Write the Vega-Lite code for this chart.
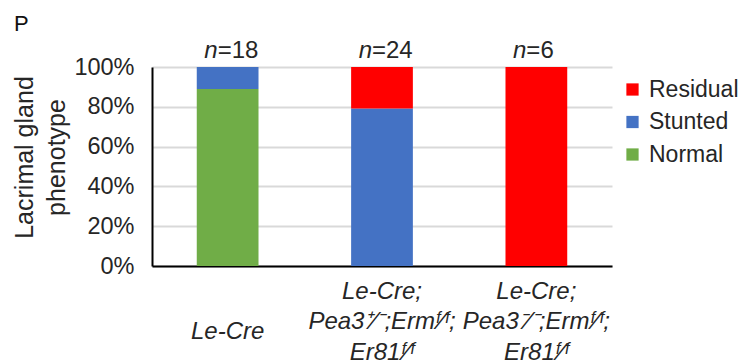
{
  "$schema": "https://vega.github.io/schema/vega-lite/v6.json",
  "autosize": {"type": "none"},
  "width": 460,
  "height": 199,
  "padding": {"left": 152, "top": 67, "right": 132, "bottom": 98},
  "background": "white",
  "config": {
    "font": "Liberation Sans",
    "view": {"stroke": null},
    "axis": {"labelColor": "#262626", "titleColor": "#262626"},
    "axisY": {
      "labelOverlap": false, "ticks": false, "domainColor": "black", "domainWidth": 2,
      "gridColor": "#d9d9d9", "gridWidth": 2, "labelFontSize": 23.5, "labelPadding": 18,
      "titleFontSize": 25, "titleFontWeight": "normal", "titlePadding": 4, "titleLineHeight": 32, "titleY": 90
    }
  },
  "title": {"text": "P", "anchor": "start", "frame": "group", "dx": -138, "offset": 3, "fontSize": 22, "fontWeight": "normal", "color": "#111"},
  "data": {"values": [
    {"genotype": "Le-Cre", "phenotype": "Normal", "share": 0.8889, "rank": 1},
    {"genotype": "Le-Cre", "phenotype": "Stunted", "share": 0.1111, "rank": 2},
    {"genotype": "Le-Cre", "phenotype": "Residual", "share": 0, "rank": 3},
    {"genotype": "Le-Cre;|Pea3⁺⁄⁻;Ermᶠ⁄ᶠ;|Er81ᶠ⁄ᶠ", "phenotype": "Normal", "share": 0, "rank": 1},
    {"genotype": "Le-Cre;|Pea3⁺⁄⁻;Ermᶠ⁄ᶠ;|Er81ᶠ⁄ᶠ", "phenotype": "Stunted", "share": 0.7917, "rank": 2},
    {"genotype": "Le-Cre;|Pea3⁺⁄⁻;Ermᶠ⁄ᶠ;|Er81ᶠ⁄ᶠ", "phenotype": "Residual", "share": 0.2083, "rank": 3},
    {"genotype": "Le-Cre;|Pea3⁻⁄⁻;Ermᶠ⁄ᶠ;|Er81ᶠ⁄ᶠ", "phenotype": "Normal", "share": 0, "rank": 1},
    {"genotype": "Le-Cre;|Pea3⁻⁄⁻;Ermᶠ⁄ᶠ;|Er81ᶠ⁄ᶠ", "phenotype": "Stunted", "share": 0, "rank": 2},
    {"genotype": "Le-Cre;|Pea3⁻⁄⁻;Ermᶠ⁄ᶠ;|Er81ᶠ⁄ᶠ", "phenotype": "Residual", "share": 1, "rank": 3}
  ]},
  "encoding": {
    "x": {
      "field": "genotype", "type": "nominal", "sort": null,
      "scale": {"paddingInner": 0.6, "paddingOuter": 0.29},
      "axis": {
        "title": null, "labelAngle": 0, "ticks": false, "grid": false,
        "domainColor": "black", "domainWidth": 2,
        "labelFontSize": 24, "labelFontStyle": "italic",
        "labelPadding": {"condition": {"test": "datum.value == 'Le-Cre'", "value": 53}, "value": 13},
        "labelLineHeight": 30.5, "labelBaseline": "top",
        "labelExpr": "split(datum.value, '|')"
      }
    }
  },
  "layer": [
    {
      "mark": {"type": "bar"},
      "encoding": {
        "y": {
          "field": "share", "type": "quantitative", "stack": "zero",
          "scale": {"domain": [0, 1]},
          "axis": {"format": "%", "values": [0, 0.2, 0.4, 0.6, 0.8, 1], "title": ["Lacrimal gland", "phenotype"]}
        },
        "color": {
          "field": "phenotype", "type": "nominal",
          "scale": {"domain": ["Residual", "Stunted", "Normal"], "range": ["#ff0000", "#4472c4", "#70ad47"]},
          "legend": {
            "title": null, "orient": "none", "legendX": 469, "legendY": 11,
            "symbolType": "square", "symbolSize": 150, "symbolStrokeWidth": 0,
            "labelFontSize": 23, "labelColor": "#262626", "rowPadding": 8.5, "labelOffset": 5
          }
        },
        "order": {"field": "rank", "type": "quantitative"}
      }
    },
    {
      "data": {"values": [
        {"genotype": "Le-Cre", "n": "=18"},
        {"genotype": "Le-Cre;|Pea3⁺⁄⁻;Ermᶠ⁄ᶠ;|Er81ᶠ⁄ᶠ", "n": "=24"},
        {"genotype": "Le-Cre;|Pea3⁻⁄⁻;Ermᶠ⁄ᶠ;|Er81ᶠ⁄ᶠ", "n": "=6"}
      ]},
      "layer": [
        {
          "mark": {"type": "text", "text": "n", "fontStyle": "italic", "fontSize": 24, "align": "right", "baseline": "alphabetic", "dx": -10, "dy": -9, "color": "#262626"},
          "encoding": {"y": {"datum": 1, "type": "quantitative", "axis": {"format": "%", "values": [0, 0.2, 0.4, 0.6, 0.8, 1], "title": ["Lacrimal gland", "phenotype"]}}}
        },
        {
          "mark": {"type": "text", "fontSize": 24, "align": "left", "baseline": "alphabetic", "dx": -10, "dy": -9, "color": "#262626"},
          "encoding": {"y": {"datum": 1, "type": "quantitative", "axis": {"format": "%", "values": [0, 0.2, 0.4, 0.6, 0.8, 1], "title": ["Lacrimal gland", "phenotype"]}}, "text": {"field": "n"}}
        }
      ]
    }
  ]
}
